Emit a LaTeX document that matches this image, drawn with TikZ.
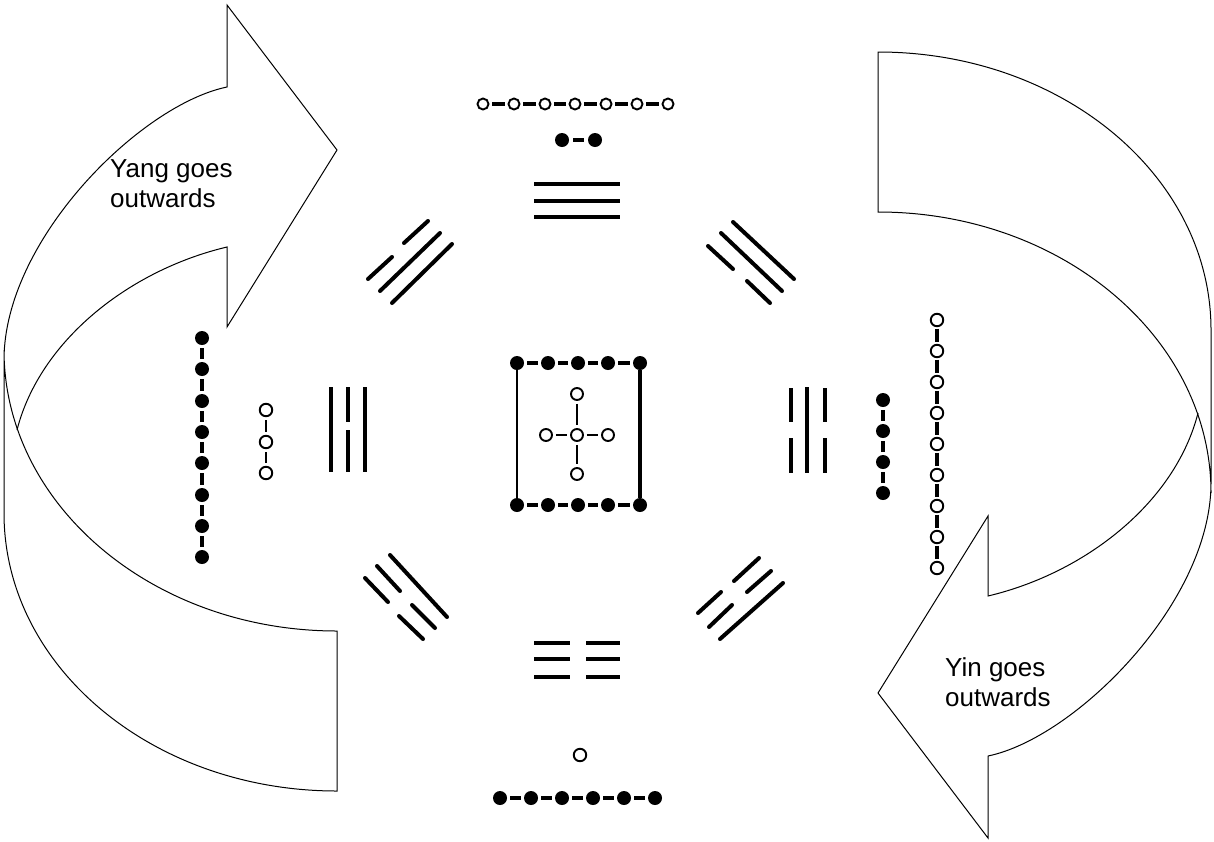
\documentclass[tikz,border=0pt]{standalone}
\usepackage{fontspec}
\setmainfont{Liberation Sans}
\begin{document}
\begin{tikzpicture}[x=1pt,y=-1pt,
  outline/.style={line width=1pt, line join=miter},
  fdot/.style={circle, fill=black, inner sep=0pt, minimum size=14pt},
  odot/.style={circle, draw=black, fill=white, line width=1.9pt, inner sep=0pt, minimum size=11pt},
  bigodot/.style={odot, minimum size=12.5pt},
  link/.style={line width=3.6pt, shorten <=3pt, shorten >=3pt},
  thinlink/.style={line width=2.2pt, shorten <=3pt, shorten >=3pt},
  bar/.style={line width=4pt},
  diag/.style={line width=4pt, line cap=round},
  label/.style={font=\fontsize{26}{30}\selectfont, anchor=base west, inner sep=0pt}
]
\useasboundingbox (0,0) rectangle (1214,841);

% curved ribbon arrow: band wrapping round with an arrow head at its end
\newcommand{\ribbonarrow}{%
  \draw[outline] (337,150) -- (227,5) -- (227,87)
    .. controls (140,105) and (4,240) .. (4,360) -- (4,513)
    .. controls (4,667) and (153,791) .. (337,791) -- (337,631)
    .. controls (153,631) and (4,505) .. (4,350);
  \draw[outline] (17,430) .. controls (40,340) and (130,270) .. (227,247)
    -- (227,327) -- (337,150);
}
\ribbonarrow
\begin{scope}[rotate around={180:(607.5,421.5)}]
  \ribbonarrow
\end{scope}

\node[label] (yang1) at (110,177) {Yang goes};
\node[label] (yang2) at (110,207) {outwards};
\node[label] (yin1) at (945,676) {Yin goes};
\node[label] (yin2) at (945,706) {outwards};

% top: seven open dots, two filled dots, Qian trigram
\foreach \i/\x in {1/483,2/514,3/545,4/575,5/606,6/637,7/668}
  \node[odot] (t\i) at (\x,104) {};
\foreach \i in {1,...,6}{\pgfmathtruncatemacro\j{\i+1}\draw[link] (t\i) -- (t\j);}
\node[fdot] (p1) at (562,140) {};
\node[fdot] (p2) at (595,140) {};
\draw[link, shorten <=4pt, shorten >=4pt] (p1) -- (p2);
\foreach \y in {184,201,217} \draw[bar] (534,\y) -- (620,\y);

% bottom: Kun trigram, single open dot, six filled dots
\foreach \y in {643,659,677}{\draw[bar] (534,\y) -- (570,\y); \draw[bar] (586,\y) -- (620,\y);}
\node[bigodot] (s1) at (580,755) {};
\foreach \i/\x in {1/500,2/531,3/562,4/593,5/624,6/655}
  \node[fdot] (b\i) at (\x,798) {};
\foreach \i in {1,...,5}{\pgfmathtruncatemacro\j{\i+1}\draw[link] (b\i) -- (b\j);}

% left: eight filled dots, three open dots, Li trigram
\foreach \i/\y in {1/338,2/369,3/401,4/432,5/463,6/495,7/526,8/557}
  \node[fdot] (l\i) at (202,\y) {};
\foreach \i in {1,...,7}{\pgfmathtruncatemacro\j{\i+1}\draw[link] (l\i) -- (l\j);}
\foreach \i/\y in {1/410,2/442,3/473}
  \node[bigodot] (m\i) at (266,\y) {};
\draw[thinlink] (m1) -- (m2);
\draw[thinlink] (m2) -- (m3);
\draw[bar] (331,387) -- (331,472);
\draw[bar] (348,387) -- (348,422);
\draw[bar] (348,430) -- (348,472);
\draw[bar] (365,387) -- (365,472);

% right: Kan trigram, four filled dots, nine open dots
\draw[bar] (791,388) -- (791,422);
\draw[bar] (791,438) -- (791,473);
\draw[bar] (807,387) -- (807,473);
\draw[bar] (825,388) -- (825,422);
\draw[bar] (825,438) -- (825,473);
\foreach \i/\y in {1/400,2/431,3/462,4/493}
  \node[fdot] (r\i) at (883,\y) {};
\foreach \i in {1,...,3}{\pgfmathtruncatemacro\j{\i+1}\draw[link] (r\i) -- (r\j);}
\foreach \i/\y in {1/320,2/351,3/382,4/413,5/444,6/475,7/506,8/537,9/568}
  \node[bigodot] (q\i) at (937,\y) {};
\foreach \i in {1,...,8}{\pgfmathtruncatemacro\j{\i+1}\draw[link, shorten <=1.5pt, shorten >=1.5pt] (q\i) -- (q\j);}

% diagonal trigrams
\draw[diag] (368,279) -- (392,257);
\draw[diag] (404,243) -- (428,221);
\draw[diag] (380,291) -- (440,233);
\draw[diag] (392,303) -- (452,244);

\draw[diag] (733,222) -- (794,279);
\draw[diag] (721,233) -- (782,291);
\draw[diag] (708,246) -- (733,269);
\draw[diag] (747,281) -- (770,303);

\draw[diag] (365,578) -- (388,602);
\draw[diag] (399,616) -- (423,639);
\draw[diag] (377,566) -- (400,591);
\draw[diag] (412,605) -- (435,628);
\draw[diag] (390,555) -- (447,617);

\draw[diag] (698,613) -- (721,592);
\draw[diag] (734,581) -- (759,558);
\draw[diag] (709,627) -- (732,605);
\draw[diag] (747,592) -- (771,571);
\draw[diag] (720,639) -- (783,583);

% centre: framed dot rows with a cross of open dots
\foreach \i/\x in {1/517,2/548,3/578,4/608,5/640}{
  \node[fdot] (ct\i) at (\x,363) {};
  \node[fdot] (cb\i) at (\x,505) {};
}
\foreach \i in {1,...,4}{\pgfmathtruncatemacro\j{\i+1}
  \draw[link] (ct\i) -- (ct\j);
  \draw[link] (cb\i) -- (cb\j);}
\draw[line width=2pt] (ct1) -- (cb1);
\draw[line width=4pt] (ct5) -- (cb5);
\node[odot, minimum size=12pt] (cc) at (577,435) {};
\node[odot, minimum size=12pt] (cn) at (577,394) {};
\node[odot, minimum size=12pt] (cs) at (577,474) {};
\node[odot, minimum size=12pt] (cw) at (546,435) {};
\node[odot, minimum size=12pt] (ce) at (608,435) {};
\draw[thinlink] (cn) -- (cc);
\draw[thinlink] (cc) -- (cs);
\draw[thinlink] (cw) -- (cc);
\draw[thinlink] (cc) -- (ce);
\end{tikzpicture}
\end{document}
